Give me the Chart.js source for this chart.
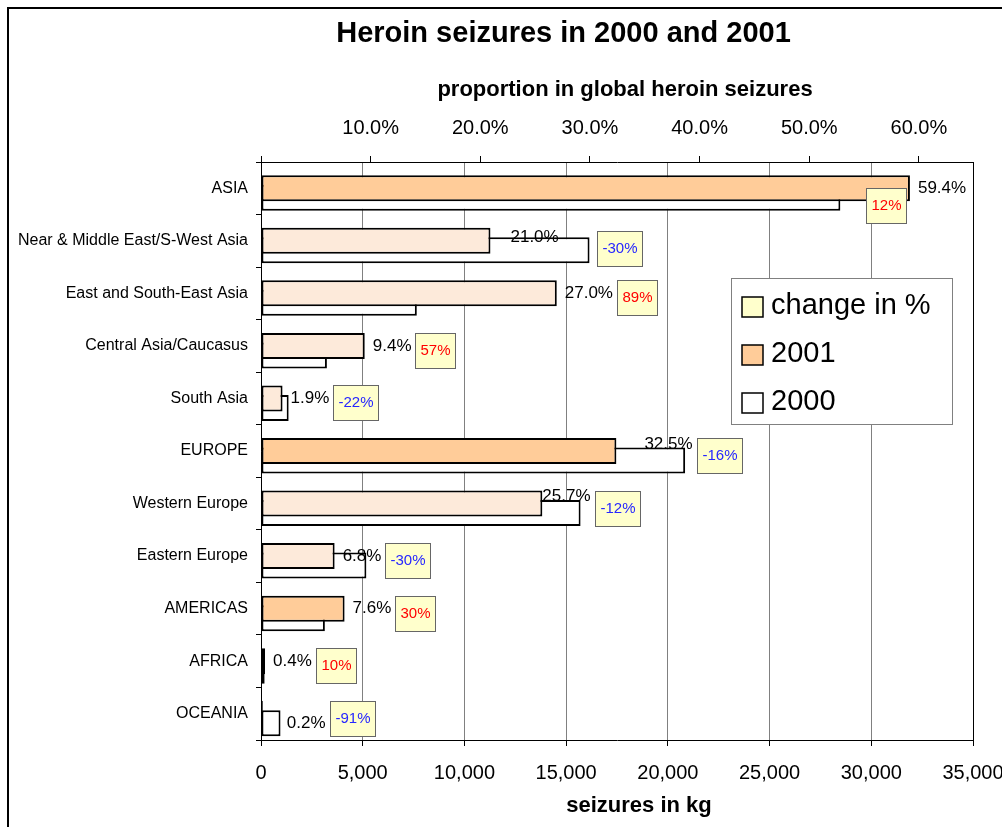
<!DOCTYPE html>
<html>
<head>
<meta charset="utf-8">
<title>Heroin seizures in 2000 and 2001</title>
<script src="https://cdn.jsdelivr.net/npm/chart.js@4.4.1/dist/chart.umd.min.js"></script>
<style>
  html, body { margin: 0; padding: 0; background: #fff; }
  #wrap { width: 1002px; height: 827px; }
</style>
</head>
<body>
<div id="wrap"><canvas id="seizuresChart" width="1002" height="827"></canvas></div>
<script>
// categories (regions in capitals, sub-regions below them)
const regions = [
  "ASIA",
  "Near & Middle East/S-West Asia",
  "East and South-East Asia",
  "Central Asia/Caucasus",
  "South Asia",
  "EUROPE",
  "Western Europe",
  "Eastern Europe",
  "AMERICAS",
  "AFRICA",
  "OCEANIA",
];
const isRegion = [true, false, false, false, false, true, false, false, true, true, true];

// seizures in kg
const kg2001 = [31900, 11280, 14540, 5100, 1060, 17470, 13830, 3620, 4110, 200, 90];
const kg2000 = [28480, 16150, 7660, 3240, 1360, 20850, 15710, 5180, 3140, 180, 960];

// proportion of global seizures in 2001 (%) and change 2000-2001 (%)
const share2001 = [59.4, 21.0, 27.0, 9.4, 1.9, 32.5, 25.7, 6.8, 7.6, 0.4, 0.2];
const changePct = [12, -30, 89, 57, -22, -16, -12, -30, 30, 10, -91];

const globalKg2001 = 53900; // top axis: share of this total

const ORANGE = "#FFCC99";
const PEACH = "#FDEADA";
const CHANGE_BG = "#FFFFCC";
const FONT = "'Liberation Sans', Arial, sans-serif";

// labels that were dragged by hand in the original
const labelNudge = {
  "Near & Middle East/S-West Asia": [12, -4],
  EUROPE: [20, -7],
  "Western Europe": [-8, -7],
  OCEANIA: [16, 10],
};
const boxNudge = {
  ASIA: [-104, 13],
  "Near & Middle East/S-West Asia": [34, 3],
};

Chart.defaults.font.family = FONT;
Chart.defaults.color = "#000";

const labelPlugin = {
  id: "seizureLabels",
  afterDatasetsDraw(chart) {
    const ctx = chart.ctx;
    const bars = chart.getDatasetMeta(1).data;
    ctx.save();
    regions.forEach((name, i) => {
      const bar = bars[i];
      const [ldx, ldy] = labelNudge[name] || [0, 0];
      const lx = bar.x + 8 + ldx;
      const ly = bar.y + ldy;
      const txt = share2001[i].toFixed(1) + "%";
      ctx.font = "17px " + FONT;
      ctx.fillStyle = "#000";
      ctx.textAlign = "left";
      ctx.textBaseline = "middle";
      ctx.fillText(txt, lx, ly);
      const right = lx + ctx.measureText(txt).width;

      // change in % box
      const ch = changePct[i];
      const ctext = ch + "%";
      ctx.font = "15px " + FONT;
      const bw = Math.round(ctx.measureText(ctext).width + 11);
      const bh = 36;
      const [bdx, bdy] = boxNudge[name] || [0, 0];
      const bx = Math.round(right + 4 + bdx);
      const by = Math.round(bar.y + 5 + bdy - bh / 2);
      ctx.fillStyle = CHANGE_BG;
      ctx.fillRect(bx, by, bw, bh);
      ctx.strokeStyle = "#666";
      ctx.lineWidth = 1;
      ctx.strokeRect(bx + 0.5, by + 0.5, bw - 1, bh - 1);
      ctx.fillStyle = ch >= 0 ? "#FF0000" : "#2626FF";
      ctx.textAlign = "center";
      ctx.fillText(ctext, bx + bw / 2, by + bh / 2);
    });
    ctx.restore();
  },
};

const framePlugin = {
  id: "frameAndLegend",
  afterLayout(chart) {
    // title is centred over the plot, not the canvas
    const t = chart.titleBlock;
    if (t) { t.left = 154; t.right = 973; }
  },
  afterDraw(chart) {
    const { ctx, chartArea: a } = chart;
    ctx.save();
    // outer chart border
    ctx.strokeStyle = "#000";
    ctx.lineWidth = 2;
    ctx.beginPath();
    ctx.moveTo(8, chart.height);
    ctx.lineTo(8, 8);
    ctx.lineTo(chart.width, 8);
    ctx.stroke();

    // axis titles
    const mid = (a.left + a.right) / 2;
    ctx.font = "bold 22px " + FONT;
    ctx.fillStyle = "#000";
    ctx.textAlign = "center";
    ctx.textBaseline = "middle";
    ctx.fillText("proportion in global heroin seizures", mid + 8, 90);
    ctx.fillText("seizures in kg", mid + 22, a.bottom + 66);

    // legend
    const fills = [CHANGE_BG, ORANGE, "#FFFFFF"];
    ctx.fillStyle = "#fff";
    ctx.fillRect(731, 278, 221, 146);
    ctx.strokeStyle = "#808080";
    ctx.lineWidth = 1;
    ctx.strokeRect(731.5, 278.5, 221, 146);
    chart.data.datasets.forEach((ds, k) => {
      const cy = 307 + k * 48;
      ctx.fillStyle = fills[k];
      ctx.fillRect(742, cy - 10, 21, 20);
      ctx.strokeStyle = "#000";
      ctx.lineWidth = 1.5;
      ctx.strokeRect(742, cy - 10, 21, 20);
      ctx.fillStyle = "#000";
      ctx.font = "29px " + FONT;
      ctx.textAlign = "left";
      ctx.fillText(ds.label, 771, cy - 1);
    });
    ctx.restore();
  },
};

const barShape = { categoryPercentage: 0.5424, barPercentage: 2.737, borderSkipped: false };

new Chart(document.getElementById("seizuresChart"), {
  type: "bar",
  data: {
    labels: regions,
    datasets: [
      {
        label: "change in %",
        data: regions.map(() => null),
        backgroundColor: CHANGE_BG,
        ...barShape,
      },
      {
        label: "2001",
        data: kg2001,
        backgroundColor: (c) => (isRegion[c.dataIndex] ? ORANGE : PEACH),
        borderColor: "#000",
        borderWidth: 2,
        ...barShape,
      },
      {
        label: "2000",
        data: kg2000,
        backgroundColor: "#FFFFFF",
        borderColor: "#000",
        borderWidth: 2,
        ...barShape,
      },
    ],
  },
  options: {
    indexAxis: "y",
    responsive: false,
    animation: false,
    devicePixelRatio: 1,
    layout: { padding: { left: 0, right: 29, top: 0, bottom: 0 } },
    plugins: {
      legend: { display: false },
      tooltip: { enabled: false },
      title: {
        display: true,
        text: "Heroin seizures in 2000 and 2001",
        font: { size: 29, weight: "bold" },
        color: "#000",
        padding: { top: 17, bottom: 0 },
      },
    },
    scales: {
      x: {
        type: "linear",
        position: "bottom",
        min: 0,
        max: 35000,
        ticks: {
          stepSize: 5000,
          padding: 15,
          font: { size: 20 },
          callback: (v) => v.toLocaleString("en-US"),
        },
        grid: {
          color: (c) => (c.tick && c.tick.value === 35000 ? "#000" : "#808080"),
          tickColor: "#000",
          tickLength: 6,
        },
        border: { color: "#000" },
        afterFit: (s) => { s.height = 87; s.paddingLeft = 0; s.paddingRight = 0; },
      },
      x2: {
        type: "linear",
        axis: "x",
        position: "top",
        min: 0,
        max: (35000 / globalKg2001) * 100,
        ticks: {
          stepSize: 10,
          includeBounds: false,
          padding: 16,
          font: { size: 20 },
          callback: (v) => (v === 0 ? "" : v.toFixed(1) + "%"),
        },
        grid: { drawOnChartArea: false, color: "#000", tickLength: 6 },
        border: { color: "#000" },
        afterFit: (s) => { s.height = 110.2; s.paddingLeft = 0; s.paddingRight = 0; },
      },
      y: {
        type: "category",
        offset: true,
        ticks: { autoSkip: false, padding: 8, font: { size: 16 } },
        grid: { offset: true, drawOnChartArea: false, color: "#000", tickLength: 5 },
        border: { color: "#000" },
        afterFit: (s) => { s.width = 261; s.paddingTop = 0; s.paddingBottom = 0; },
      },
    },
  },
  plugins: [labelPlugin, framePlugin],
});
</script>
</body>
</html>
